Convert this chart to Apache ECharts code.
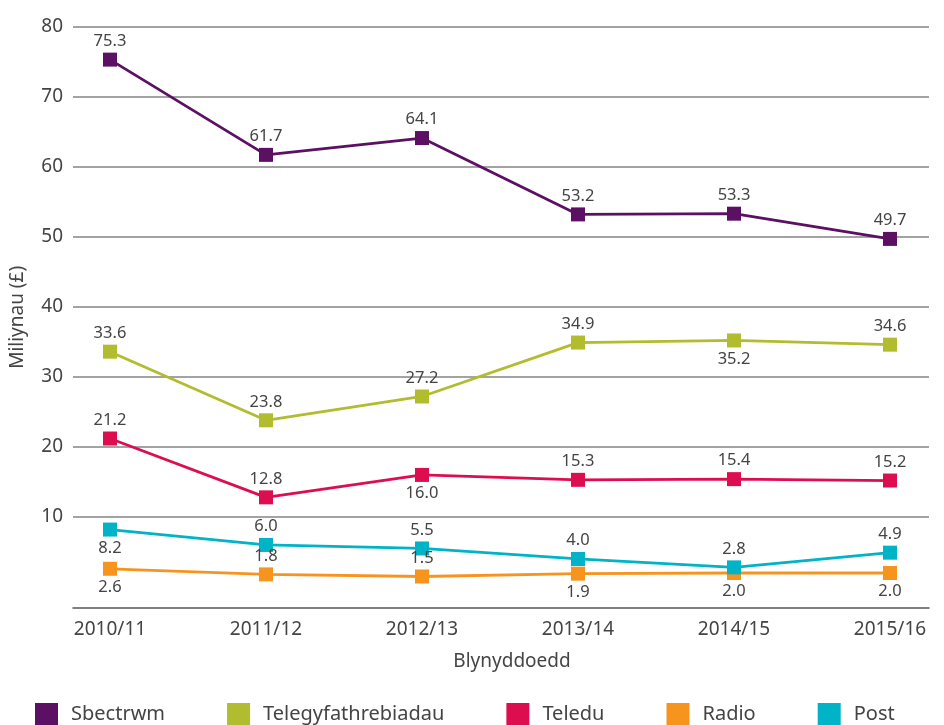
<!DOCTYPE html>
<html>
<head>
<meta charset="utf-8">
<script src="https://cdn.jsdelivr.net/npm/echarts@6/dist/echarts.min.js"></script>
<style>
  html, body { margin: 0; padding: 0; background: #fff; }
  #chart { width: 944px; height: 725px; }
</style>
</head>
<body>
<div id="chart"></div>
<script>
// Financial years on the category axis
var years = ['2010/11', '2011/12', '2012/13', '2013/14', '2014/15', '2015/16'];

// Income by stream, in millions of pounds
var sbectrwm = [75.3, 61.7, 64.1, 53.2, 53.3, 49.7];
var telegyfathrebiadau = [33.6, 23.8, 27.2, 34.9, 35.2, 34.6];
var teledu = [21.2, 12.8, 16.0, 15.3, 15.4, 15.2];
var radio = [2.6, 1.8, 1.5, 1.9, 2.0, 2.0];
var post = [8.2, 6.0, 5.5, 4.0, 2.8, 4.9];

// Value-axis tick labels
var yTicks = [10, 20, 30, 40, 50, 60, 70, 80];

var textColor = '#444';
var font = 'Noto Sans';

// Which side of each point its value label sits on
var sideSbectrwm = ['top', 'top', 'top', 'top', 'top', 'top'];
var sideTelegy = ['top', 'top', 'top', 'top', 'bottom', 'top'];
var sideTeledu = ['top', 'top', 'bottom', 'top', 'top', 'top'];
var sideRadio = ['bottom', 'top', 'top', 'bottom', 'bottom', 'bottom'];
var sidePost = ['bottom', 'top', 'top', 'top', 'top', 'top'];

function makeSeries(name, values, sides, color) {
  return {
    name: name,
    type: 'line',
    symbol: 'rect',
    symbolSize: 14,
    color: color,
    lineStyle: { width: 2.8, color: color },
    itemStyle: { color: color },
    data: values.map(function (v, i) {
      return {
        value: [i, v],
        label: { position: sides[i] }
      };
    }),
    label: {
      show: true,
      distance: 3,
      color: textColor,
      fontFamily: font,
      fontSize: 16.5,
      formatter: function (p) { return p.value[1].toFixed(1); }
    },
    emphasis: { disabled: true },
    animation: false
  };
}

var chart = echarts.init(document.getElementById('chart'), null, { renderer: 'canvas' });

chart.setOption({
  backgroundColor: '#fff',
  animation: false,
  grid: { left: 72, right: 15, top: 26.7, bottom: 117, containLabel: false },
  xAxis: {
    type: 'value',
    min: -0.237,
    max: 5.25,
    name: 'Blynyddoedd',
    nameLocation: 'middle',
    nameGap: 44,
    nameTextStyle: { color: textColor, fontFamily: font, fontSize: 19, padding: [0, 0, 0, 22] },
    axisLine: { onZero: false, lineStyle: { color: '#555', width: 1.5 } },
    axisTick: { show: false },
    splitLine: { show: false },
    axisLabel: {
      customValues: [0, 1, 2, 3, 4, 5],
      formatter: function (v) { return years[Math.round(v)]; },
      color: textColor,
      fontFamily: font,
      fontSize: 19,
      margin: 12
    }
  },
  yAxis: {
    type: 'value',
    min: -3,
    max: 80,
    name: 'Miliynau (£)',
    nameLocation: 'middle',
    nameGap: 46,
    nameTextStyle: { color: textColor, fontFamily: font, fontSize: 19 },
    axisLine: { show: false },
    axisTick: { show: false, customValues: yTicks },
    splitLine: { show: true, lineStyle: { color: '#858585', width: 1.5 } },
    axisLabel: {
      customValues: yTicks,
      color: textColor,
      fontFamily: font,
      fontSize: 19,
      margin: 10
    }
  },
  legend: {
    bottom: -6,
    left: 30,
    itemWidth: 23,
    itemHeight: 23,
    itemGap: 62,
    icon: 'rect',
    textStyle: { color: textColor, fontFamily: font, fontSize: 20, padding: [0, 0, 0, 8] },
    data: ['Sbectrwm', 'Telegyfathrebiadau', 'Teledu', 'Radio', 'Post']
  },
  series: [
    makeSeries('Sbectrwm', sbectrwm, sideSbectrwm, '#5c1064'),
    makeSeries('Telegyfathrebiadau', telegyfathrebiadau, sideTelegy, '#b1bd2e'),
    makeSeries('Teledu', teledu, sideTeledu, '#dc0e4f'),
    makeSeries('Radio', radio, sideRadio, '#f7941e'),
    makeSeries('Post', post, sidePost, '#00b3c6')
  ]
});
</script>
</body>
</html>
